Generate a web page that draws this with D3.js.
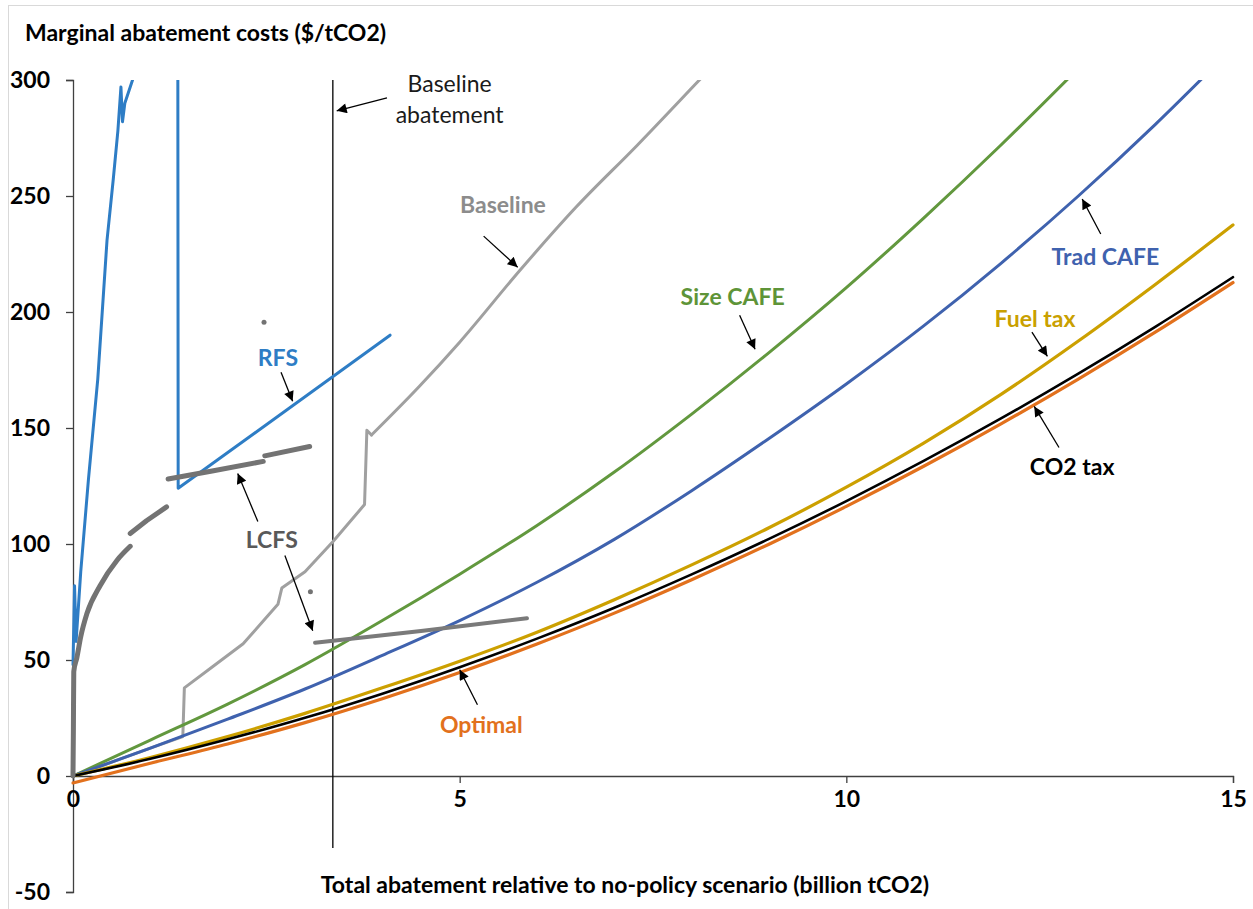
<!DOCTYPE html>
<html lang="en">
<head>
    <meta charset="UTF-8">
    <title>Marginal abatement costs</title>
    <script src="https://cdn.jsdelivr.net/npm/d3@7"></script>
    <style>
        body {margin: 0; background: white;}
        text {font-family: Lato, "Open Sans", sans-serif;}
    </style>
</head>
<body>
<script>
    const width = 1253;
    const height = 909;

    // x in billion tCO2, y in $/tCO2
    const xs        = [0, 1, 2, 3, 4, 5, 6, 7, 8, 9, 10, 11, 12, 13, 14, 15];
    const optimal   = [-3, 5.5, 13.8, 23, 33.3, 44.6, 56.9, 70.2, 84.6, 99.9, 116.2, 133.5, 151.8, 171.1, 191.4, 212.7];
    const co2Tax    = [0, 7.4, 15.8, 25.1, 35.5, 46.9, 59.2, 72.5, 86.9, 102.2, 118.5, 135.8, 154.1, 173.4, 193.7, 215];
    const fuelTax   = [0, 8, 17, 27, 38, 49.5, 62, 76, 91, 107, 124.5, 143.5, 164.5, 187.5, 212, 237.5];
    const tradCafe  = [0, 12, 24.5, 37.5, 52, 67, 83.5, 102, 123, 145.5, 169, 194, 221, 250, 281, 314];
    const sizeCafe  = [0, 15.5, 31, 48, 67, 87, 108, 131, 156, 182.5, 210.5, 240.5, 272, 305, 339, 374];

    // baseline policy: lower steps, then smooth upper part
    const baselineLow = [[0, 0], [0.5, 6], [1.0, 12], [1.42, 17], [1.44, 38], [1.8, 47], [2.2, 57], [2.65, 74],
                         [2.7, 81], [3.0, 88], [3.36, 101], [3.77, 117], [3.8, 149], [3.86, 147]];
    const baselineHigh = [[3.86, 147], [4.48, 168], [5.0, 187], [5.78, 218], [6.5, 245], [7.3, 272], [8.1, 300], [8.3, 307]];

    const rfsA = [[0, 48], [0.02, 82], [0.04, 58], [0.1, 88], [0.2, 128], [0.32, 171], [0.44, 231],
                  [0.52, 257], [0.58, 278], [0.62, 297], [0.64, 282], [0.67, 290], [0.77, 300], [0.82, 318]];
    const rfsB = [[1.355, 330], [1.36, 124], [4.1, 190]];

    const lcfsA = [[0, 0], [0.005, 20], [0.01, 45], [0.05, 51], [0.1, 60], [0.18, 70], [0.35, 82], [0.57, 93], [0.74, 99]];
    const lcfsB = [[0.74, 104.5], [0.95, 110], [1.21, 116]];
    const lcfsC = [[1.23, 128], [1.8, 131.5], [2.46, 135.6]];
    const lcfsD = [[2.48, 138], [3.06, 142]];
    const lcfsE = [[3.13, 57.4], [4.5, 62.5], [5.87, 68]];
    const lcfsStray = [[2.47, 195.6], [3.07, 79.4]];

    const baselineAbatement = 3.36;

    const xTicks = [0, 5, 10, 15];
    const yTicks = [-50, 0, 50, 100, 150, 200, 250, 300];

    // labels: text, x, y, colour, weight ; arrows: from -> to (data units)
    const labels = [
        {text: "Baseline",  x: 5.56,  y: 246.1, color: "#8c8c8c", weight: "bold"},
        {text: "RFS",       x: 2.65,  y: 180.5, color: "#2e7dc5", weight: "bold"},
        {text: "LCFS",      x: 2.57,  y: 101.9, color: "#595959", weight: "bold"},
        {text: "Size CAFE", x: 8.53,  y: 206.8, color: "#5e9438", weight: "bold"},
        {text: "Trad CAFE", x: 13.35, y: 223.7, color: "#3f62ae", weight: "bold"},
        {text: "Fuel tax",  x: 12.44, y: 196.9, color: "#c9a000", weight: "bold"},
        {text: "CO2 tax",   x: 12.92, y: 133.4, color: "#000000", weight: "bold"},
        {text: "Optimal",   x: 5.28,  y: 22.0,  color: "#e2711d", weight: "bold"},
        {text: "Baseline",  x: 4.87,  y: 298.4, color: "#1a1a1a", weight: "normal"},
        {text: "abatement", x: 4.87,  y: 285.2, color: "#1a1a1a", weight: "normal"}
    ];
    const arrows = [
        [[4.06, 292.3], [3.41, 286.7]],
        [[5.31, 232.7], [5.75, 219.3]],
        [[2.69, 174.0], [2.84, 161.5]],
        [[2.39, 109.7], [2.13, 130.4]],
        [[2.74, 95.0],  [3.10, 62.6]],
        [[8.62, 198.6], [8.82, 183.9]],
        [[13.29, 233.6], [13.05, 248.7]],
        [[12.40, 191.3], [12.60, 180.9]],
        [[12.75, 141.6], [12.43, 159.3]],
        [[5.23, 30.7],  [5.0, 45.8]]
    ];

    const fontSize = "23px";

    const x = d3.scaleLinear().domain([0, 15]).range([73, 1233]);
    const y = d3.scaleLinear().domain([-50, 300]).range([892, 80]);

    const svg = d3.select("body").append("svg")
            .attr("width", width).attr("height", height);

    svg.append("rect")
        .attr("x", 8.5).attr("y", 5.5)
        .attr("width", width + 20).attr("height", height + 20)
        .style("fill", "none").style("stroke", "#d9d9d9");

    const defs = svg.append("defs");
    defs.append("clipPath").attr("id", "plot")
        .append("rect")
        .attr("x", x(0) - 5).attr("y", y(300))
        .attr("width", x(15.3) - x(0) + 5).attr("height", y(-50) - y(300));

    defs.append("marker").attr("id", "head")
        .attr("viewBox", "0 0 10 10")
        .attr("refX", 10).attr("refY", 5)
        .attr("markerUnits", "userSpaceOnUse")
        .attr("markerWidth", 12).attr("markerHeight", 10)
        .attr("orient", "auto")
        .append("path").attr("d", "M0,0L10,5L0,10z").style("fill", "black");

    // axes
    const yAxis = svg.append("g")
        .attr("transform", `translate(${x(0)},0)`)
        .call(d3.axisLeft(y).tickValues(yTicks).tickSize(7).tickPadding(16).tickFormat(d => String(d)));
    const xAxis = svg.append("g")
        .attr("transform", `translate(0,${y(0)})`)
        .call(d3.axisBottom(x).tickValues(xTicks).tickSize(7).tickPadding(8).tickSizeOuter(7));

    [yAxis, xAxis].forEach(a => {
        a.selectAll("path, line").style("stroke", "#404040").style("stroke-width", 1.3);
        a.selectAll("text")
            .style("font-size", fontSize).style("font-weight", "bold").style("fill", "black");
    });

    svg.append("text")
        .attr("x", 25).attr("y", 41)
        .style("font-size", fontSize).style("font-weight", "bold")
        .text("Marginal abatement costs ($/tCO2)");

    svg.append("text")
        .attr("x", 625).attr("y", 893)
        .attr("text-anchor", "middle")
        .style("font-size", fontSize).style("font-weight", "bold")
        .text("Total abatement relative to no-policy scenario (billion tCO2)");

    // baseline abatement marker line
    svg.append("line")
        .attr("x1", x(baselineAbatement)).attr("x2", x(baselineAbatement))
        .attr("y1", y(300)).attr("y2", y(-31))
        .style("stroke", "black").style("stroke-width", 1.3);

    const line = d3.line().x(d => x(d[0])).y(d => y(d[1]));
    const smooth = d3.line().x(d => x(d[0])).y(d => y(d[1])).curve(d3.curveMonotoneX);
    const chart = svg.append("g").attr("clip-path", "url(#plot)");

    function drawSeries(points, color, w, gen = line) {
        chart.append("path")
            .datum(points)
            .attr("d", gen)
            .style("fill", "none")
            .style("stroke", color)
            .style("stroke-width", w)
            .style("stroke-linejoin", "round")
            .style("stroke-linecap", "round");
    }

    const zipped = vals => xs.map((v, i) => [v, vals[i]]);

    drawSeries(baselineLow, "#a0a0a0", 3);
    drawSeries(baselineHigh, "#a0a0a0", 3, smooth);
    drawSeries(zipped(sizeCafe), "#62983e", 3, smooth);
    drawSeries(zipped(tradCafe), "#3f62ae", 3, smooth);
    drawSeries(zipped(fuelTax), "#cca000", 3.2, smooth);
    drawSeries(zipped(optimal), "#e2711d", 3.2, smooth);
    drawSeries(zipped(co2Tax), "#000000", 2.6, smooth);
    drawSeries(rfsA, "#2e7dc5", 3);
    drawSeries(rfsB, "#2e7dc5", 3);
    drawSeries(lcfsA, "#737373", 5, smooth);
    [lcfsB, lcfsC, lcfsD].forEach(s => drawSeries(s, "#737373", 5));
    drawSeries(lcfsE, "#7a7a7a", 4);

    chart.selectAll("circle.stray")
        .data(lcfsStray)
        .join("circle")
        .attr("class", "stray")
        .attr("cx", d => x(d[0])).attr("cy", d => y(d[1]))
        .attr("r", 2.5)
        .style("fill", "#737373");

    // annotations
    svg.selectAll("line.arrow")
        .data(arrows)
        .join("line")
        .attr("class", "arrow")
        .attr("x1", d => x(d[0][0])).attr("y1", d => y(d[0][1]))
        .attr("x2", d => x(d[1][0])).attr("y2", d => y(d[1][1]))
        .style("stroke", "black").style("stroke-width", 1.3)
        .attr("marker-end", "url(#head)");

    svg.selectAll("text.label")
        .data(labels)
        .join("text")
        .attr("class", "label")
        .attr("x", d => x(d.x)).attr("y", d => y(d.y))
        .attr("dy", "0.36em")
        .attr("text-anchor", "middle")
        .style("font-size", fontSize)
        .style("font-weight", d => d.weight)
        .style("fill", d => d.color)
        .text(d => d.text);
</script>
</body>
</html>
